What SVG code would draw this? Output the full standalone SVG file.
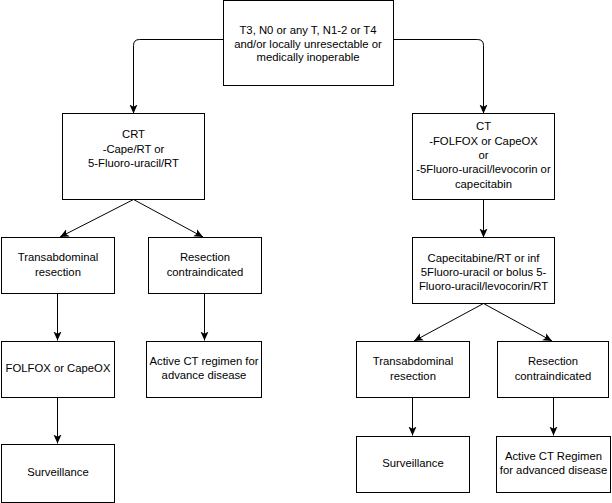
<svg xmlns="http://www.w3.org/2000/svg" width="612" height="503" viewBox="0 0 612 503">
<defs>
<marker id="arr" viewBox="0 0 10 10" refX="10" refY="5" markerWidth="9" markerHeight="9" markerUnits="userSpaceOnUse" orient="auto">
<path d="M0,0.5 L10,5 L0,9.5 L2.5,5 Z" fill="#000"/>
</marker>
<style>
.box{fill:#fff;stroke:#000;stroke-width:1}
.t{font-family:"Liberation Sans",Arial,sans-serif;font-size:11.3px;fill:#000;text-anchor:middle}
.c{fill:none;stroke:#000;stroke-width:1;marker-end:url(#arr)}
</style>
</defs>
<rect width="612" height="503" fill="#fff"/>
<g id="connectors">
<path class="c" d="M223.5,39.5 H139.5 Q133.5,39.5 133.5,45.5 V113.5"/>
<path class="c" d="M393.5,39.5 H477.5 Q483.5,39.5 483.5,45.5 V113.5"/>
<path class="c" d="M133.5,199.5 L60,237"/>
<path class="c" d="M133.5,199.5 L203,237"/>
<path class="c" d="M57.5,293.5 V340.5"/>
<path class="c" d="M204.5,293.5 V340.5"/>
<path class="c" d="M57.5,397.5 V443.5"/>
<path class="c" d="M483.5,199.5 V237.5"/>
<path class="c" d="M483.5,303.5 L414,341"/>
<path class="c" d="M483.5,303.5 L552,341"/>
<path class="c" d="M412.5,397.5 V435.5"/>
<path class="c" d="M553.5,397.5 V435.5"/>
</g>
<g id="n-top">
<rect class="box" x="223.5" y="0.5" width="170" height="85"/>
<text class="t" x="308" y="34">T3, N0 or any T, N1-2 or T4</text>
<text class="t" x="308" y="47.5">and/or locally unresectable or</text>
<text class="t" x="308" y="61">medically inoperable</text>
</g>
<g id="n-crt">
<rect class="box" x="62.5" y="113.5" width="142" height="86"/>
<text class="t" x="133.5" y="138">CRT</text>
<text class="t" x="133.5" y="152.5">-Cape/RT or</text>
<text class="t" x="133.5" y="167">5-Fluoro-uracil/RT</text>
</g>
<g id="n-ct">
<rect class="box" x="412.5" y="113.5" width="142" height="86"/>
<text class="t" x="483.5" y="130">CT</text>
<text class="t" x="483.5" y="144.5">-FOLFOX or CapeOX</text>
<text class="t" x="483.5" y="159">or</text>
<text class="t" x="483.5" y="173">-5Fluoro-uracil/levocorin or</text>
<text class="t" x="483.5" y="187.5">capecitabin</text>
</g>
<g id="n-cape">
<rect class="box" x="412.5" y="237.5" width="142" height="66"/>
<text class="t" x="483.5" y="262">Capecitabine/RT or inf</text>
<text class="t" x="483.5" y="276">5Fluoro-uracil or bolus 5-</text>
<text class="t" x="483.5" y="290">Fluoro-uracil/levocorin/RT</text>
</g>
<g id="n-ltrans">
<rect class="box" x="1.5" y="237.5" width="113" height="56"/>
<text class="t" x="58" y="261">Transabdominal</text>
<text class="t" x="58" y="276">resection</text>
</g>
<g id="n-lres">
<rect class="box" x="148.5" y="237.5" width="113" height="56"/>
<text class="t" x="205" y="261">Resection</text>
<text class="t" x="205" y="276">contraindicated</text>
</g>
<g id="n-folfox">
<rect class="box" x="1.5" y="341.5" width="113" height="56"/>
<text class="t" x="58" y="372">FOLFOX or CapeOX</text>
</g>
<g id="n-lactive">
<rect class="box" x="146.5" y="341.5" width="115" height="56"/>
<text class="t" x="204" y="365">Active CT regimen for</text>
<text class="t" x="204" y="379">advance disease</text>
</g>
<g id="n-lsurv">
<rect class="box" x="1.5" y="444.5" width="113" height="58"/>
<text class="t" x="58" y="476">Surveillance</text>
</g>
<g id="n-rtrans">
<rect class="box" x="356.5" y="341.5" width="113" height="56"/>
<text class="t" x="413" y="365">Transabdominal</text>
<text class="t" x="413" y="380">resection</text>
</g>
<g id="n-rres">
<rect class="box" x="497.5" y="341.5" width="111" height="56"/>
<text class="t" x="553" y="365">Resection</text>
<text class="t" x="553" y="380">contraindicated</text>
</g>
<g id="n-rsurv">
<rect class="box" x="356.5" y="436.5" width="113" height="56"/>
<text class="t" x="413" y="467">Surveillance</text>
</g>
<g id="n-ractive">
<rect class="box" x="496.5" y="436.5" width="114" height="56"/>
<text class="t" x="553.5" y="460">Active CT Regimen</text>
<text class="t" x="553.5" y="474">for advanced disease</text>
</g>
</svg>
